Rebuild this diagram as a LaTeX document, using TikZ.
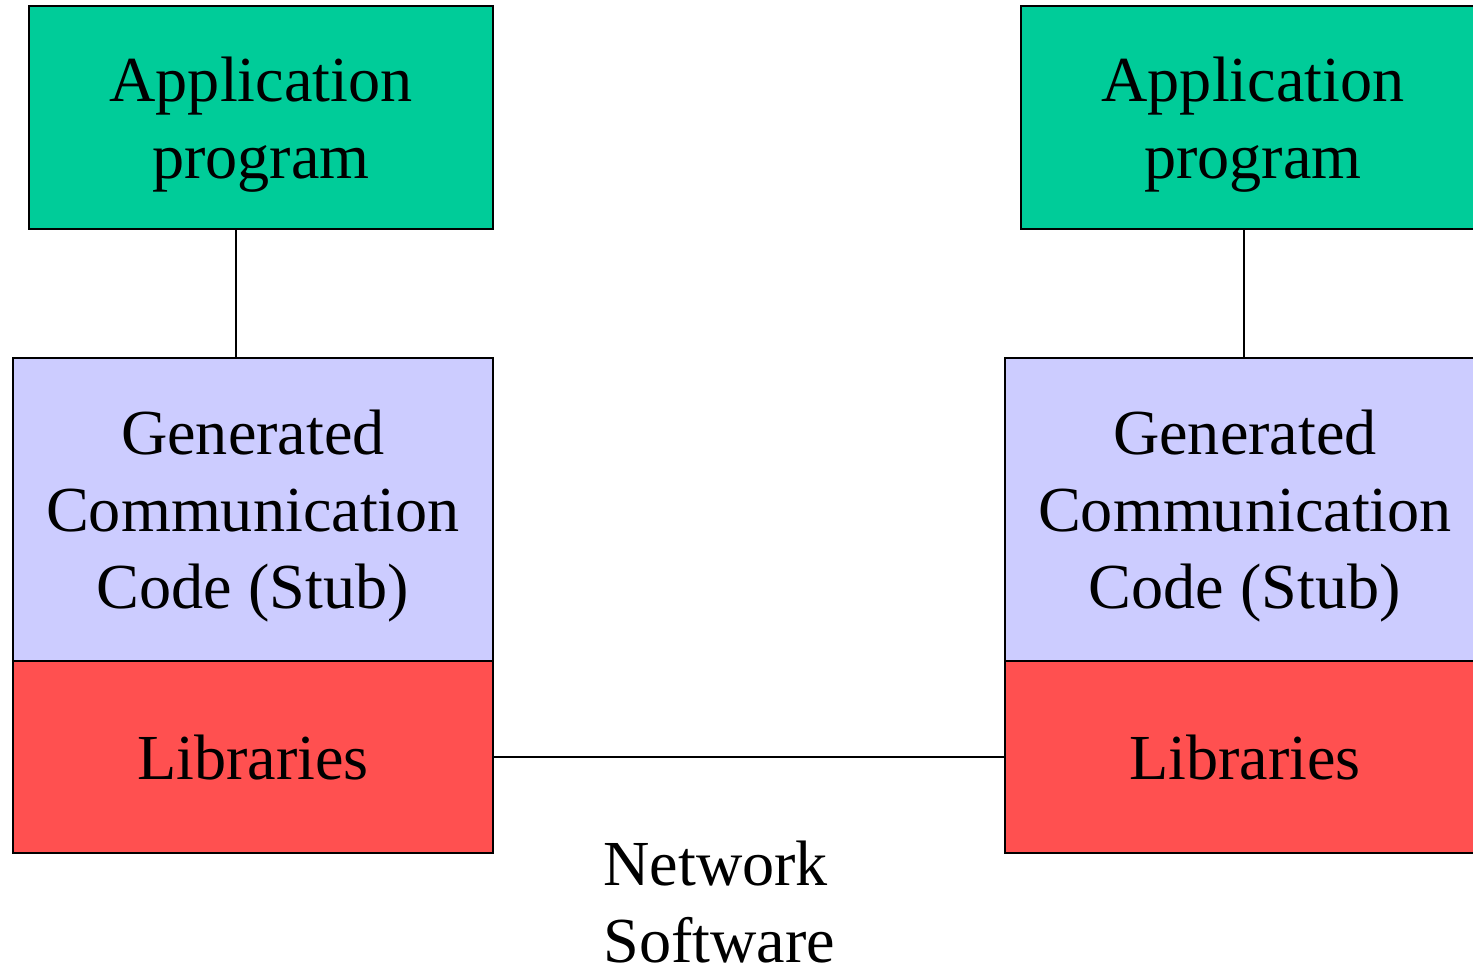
\documentclass[tikz,border=0pt]{standalone}
\usepackage{fontspec}
\setmainfont{Liberation Serif}
\definecolor{appgreen}{HTML}{00CC99}
\definecolor{stubblue}{HTML}{CCCCFF}
\definecolor{libred}{HTML}{FF5050}
\begin{document}
\begin{tikzpicture}[x=0.5pt,y=-0.5pt,
  labelfont/.style={font=\fontsize{32.1}{38.5}\selectfont},
  layer/.style={draw, line width=1pt, inner sep=0pt, align=center,
    anchor=north west, text depth=0pt, labelfont},
  narrow/.style={layer, minimum width=232pt},
  wide/.style={layer, minimum width=240pt},
  link/.style={line width=0.8pt}]
\useasboundingbox (0,0) rectangle (1473,965);
\clip (0,0) rectangle (1473,965);

% left host
\node[narrow, fill=appgreen, minimum height=111.5pt] (appL) at (28,5) {Application\\program};
\node[wide, fill=stubblue, minimum height=151.5pt] (stubL) at (12,357) {Generated\\Communication\\Code (Stub)};
\node[wide, fill=libred, minimum height=96pt] (libL) at (12,660) {Libraries};

% right host
\node[narrow, fill=appgreen, minimum height=111.5pt] (appR) at (1020,5) {Application\\program};
\node[wide, fill=stubblue, minimum height=151.5pt] (stubR) at (1004,357) {Generated\\Communication\\Code (Stub)};
\node[wide, fill=libred, minimum height=96pt] (libR) at (1004,660) {Libraries};

% connectors
\coordinate (colL) at (236,0);
\coordinate (colR) at (1244,0);
\draw[link] (appL.south -| colL) -- (stubL.north -| colL);
\draw[link] (appR.south -| colR) -- (stubR.north -| colR);
\draw[link] (libL.east) -- (libR.west);

% caption under the link, baseline of the last line given
\node[anchor=base west, inner sep=0pt, align=left, labelfont] (net)
  at (603,962) {Network\\Software};
\end{tikzpicture}
\end{document}
